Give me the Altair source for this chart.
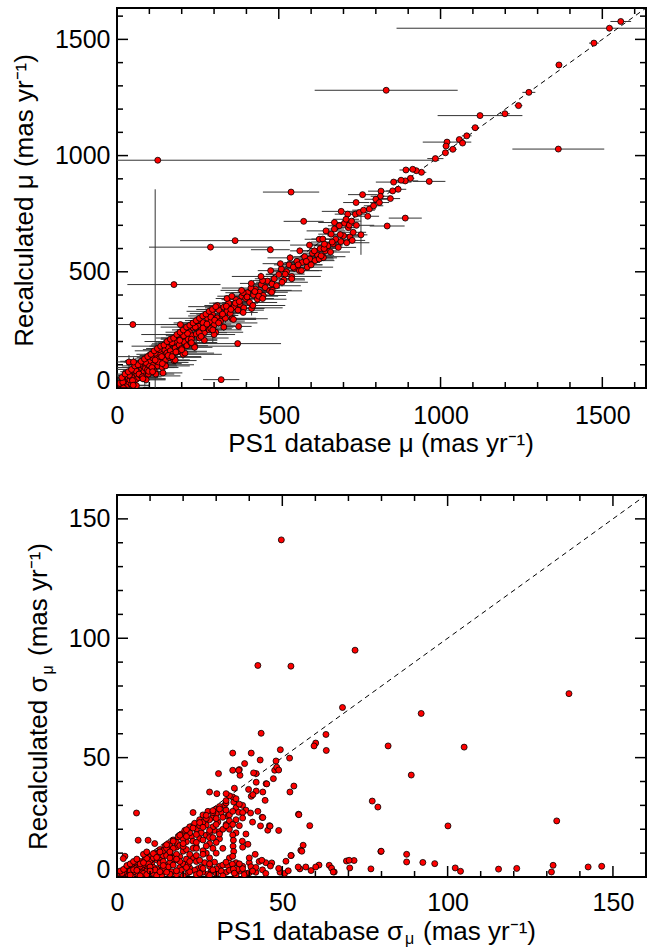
import altair as alt
import pandas as pd

FONT = "Liberation Sans"
RED = "#ff0000"

# ---------------- top panel: proper motion (dense band) ----------------
band_x = [
    3, 6, 9, 12, 14, 17, 20, 22, 25, 27,
    30, 32, 35, 37, 40, 42, 45, 47, 50, 52,
    55, 57, 60, 62, 65, 67, 70, 72, 75, 77,
    80, 83, 86, 88, 91, 94, 97, 100, 103, 106,
    110, 113, 116, 120, 123, 126, 130, 133, 136, 140,
    143, 147, 150, 154, 157, 161, 165, 168, 172, 176,
    180, 184, 188, 192, 196, 200, 204, 208, 212, 216,
    220, 224, 228, 232, 236, 240, 245, 250, 255, 260,
    265, 270, 275, 280, 285, 290, 295, 300, 305, 310,
    315, 320, 325, 330, 335, 340, 345, 350, 356, 362,
    368, 374, 380, 386, 392, 398, 404, 410, 416, 422,
    428, 434, 440, 446, 452, 458, 465, 472, 479, 486,
    493, 500, 508, 516, 524, 532, 540, 548, 556, 564,
    572, 580, 588, 596, 604, 612, 620, 628, 636, 644,
    652, 660, 668, 676, 684, 692, 700, 710, 720, 730,
    40, 70, 100, 130, 160, 190, 250, 280, 310, 340,
    8, 18, 28, 38, 48, 58, 68, 78, 88, 98,
    108, 118, 128, 138, 148, 158, 170, 182, 194, 206,
    218, 230, 242, 254, 266, 278, 290, 302, 314, 326,
    338, 352, 366, 378, 390, 402, 414, 426, 438, 450,
    15, 25, 35, 45, 55, 65, 75, 85, 95, 105,
    115, 125, 135, 145, 155, 165, 175, 185, 195, 205,
    215, 225, 235, 245, 255, 265, 275, 285, 295, 305,
    60, 90, 120, 150, 180, 210, 240, 270, 300, 330,
    360, 390, 420, 450, 480, 510, 540, 570, 600, 630,
    355, 385, 415, 445, 475, 505, 535, 565, 595, 625,
    520, 545, 560, 585, 610, 640, 665, 690, 715, 740,
    20, 50, 80, 110, 140, 170, 200, 230, 260, 290,
]
band_y = [
    8, 0, 15, 5, 22, 12, 2, 30, 18, 38,
    10, 26, 44, 20, 35, 52, 15, 40, 58, 28,
    48, 66, 38, 58, 80, 45, 72, 55, 88, 62,
    95, 70, 52, 85, 105, 78, 60, 98, 118, 82,
    130, 100, 70, 118, 142, 95, 125, 152, 110, 88,
    138, 165, 120, 150, 178, 132, 160, 190, 145, 118,
    172, 200, 158, 185, 215, 170, 145, 198, 228, 182,
    210, 240, 195, 225, 258, 180, 232, 268, 215, 248,
    282, 238, 262, 300, 250, 285, 318, 270, 240, 302,
    335, 288, 312, 348, 300, 330, 365, 320, 298, 350,
    380, 335, 360, 395, 345, 385, 410, 368, 342, 400,
    425, 382, 412, 445, 398, 432, 460, 418, 448, 470,
    440, 488, 512, 465, 500, 530, 480, 515, 545, 505,
    540, 565, 520, 555, 580, 548, 572, 600, 565, 590,
    612, 585, 620, 640, 605, 630, 655, 625, 650, 670,
    65, 100, 140, 165, 200, 230, 290, 320, 355, 385,
    20, 25, 5, 55, 32, 75, 60, 48, 110, 72,
    88, 150, 112, 135, 100, 140, 195, 155, 205, 225,
    235, 210, 262, 238, 258, 275, 305, 292, 280, 318,
    352, 338, 365, 372, 410, 392, 430, 415, 395, 462,
    45, 60, 70, 80, 95, 100, 115, 125, 135, 145,
    160, 170, 180, 185, 200, 210, 215, 230, 240, 250,
    262, 270, 280, 290, 300, 310, 318, 330, 338, 350,
    10, 35, 60, 95, 120, 150, 175, 205, 230, 262,
    295, 325, 355, 385, 420, 455, 470, 505, 530, 560,
    395, 420, 450, 480, 505, 535, 560, 590, 615, 640,
    490, 520, 530, 545, 590, 600, 628, 660, 690, 700,
    0, 12, 40, 70, 105, 135, 165, 195, 222, 255,
]
band_xerr = [
    15, 30, 10, 45, 20, 12, 60, 25, 18, 40,
    35, 20, 55, 15, 28, 70, 22, 45, 30, 12,
    50, 25, 90, 18, 35, 60, 20, 40, 75, 28,
    30, 65, 110, 22, 45, 35, 80, 25, 55, 40,
    38, 70, 25, 95, 30, 60, 45, 20, 85, 50,
    42, 28, 75, 55, 20, 100, 35, 60, 25, 70,
    30, 45, 90, 25, 60, 35, 120, 40, 22, 65,
    55, 30, 80, 45, 25, 140, 35, 60, 90, 28,
    40, 70, 30, 55, 100, 35, 20, 65, 85, 45,
    30, 75, 50, 25, 95, 40, 60, 35, 110, 30,
    45, 80, 35, 55, 120, 30, 50, 85, 40, 65,
    35, 90, 50, 30, 70, 45, 25, 100, 40, 60,
    75, 40, 30, 65, 50, 35, 90, 45, 30, 70,
    55, 35, 80, 45, 30, 60, 40, 25, 70, 35,
    45, 60, 30, 40, 55, 35, 50, 70, 30, 40,
    25, 40, 30, 50, 35, 45, 30, 55, 40, 35,
    20, 35, 15, 50, 25, 40, 30, 60, 20, 45,
    70, 25, 50, 35, 90, 30, 45, 65, 28, 55,
    35, 80, 40, 60, 30, 75, 45, 35, 120, 40,
    50, 30, 70, 40, 55, 35, 90, 45, 60, 30,
    30, 55, 25, 80, 40, 35, 65, 30, 100, 45,
    60, 35, 90, 40, 70, 30, 55, 110, 45, 35,
    80, 40, 60, 35, 95, 45, 30, 70, 50, 85,
    40, 60, 35, 75, 45, 90, 55, 40, 65, 30,
    70, 45, 100, 35, 60, 80, 40, 55, 35, 50,
    45, 65, 35, 90, 40, 55, 70, 30, 60, 45,
    60, 40, 75, 35, 50, 45, 65, 40, 30, 55,
    35, 50, 70, 40, 60, 90, 45, 80, 35, 65,
]
band_yerr = [
    8, 15, 5, 20, 10, 6, 25, 12, 9, 18,
    10, 30, 8, 14, 22, 6, 12, 40, 9, 16,
    12, 8, 20, 35, 10, 14, 7, 25, 11, 9,
    15, 10, 45, 8, 18, 12, 22, 9, 30, 14,
    10, 25, 12, 8, 60, 15, 10, 20, 9, 35,
    12, 9, 18, 14, 25, 10, 8, 30, 12, 16,
    9, 14, 10, 40, 12, 8, 20, 15, 10, 12,
    14, 10, 25, 12, 8, 18, 35, 10, 14, 9,
    12, 20, 10, 15, 9, 50, 12, 10, 18, 14,
    10, 15, 12, 9, 20, 14, 10, 25, 12, 18,
    15, 10, 14, 20, 9, 12, 16, 10, 30, 12,
    10, 14, 12, 18, 10, 15, 9, 12, 20, 14,
    12, 10, 15, 9, 14, 12, 10, 16, 12, 10,
    14, 12, 10, 15, 12, 9, 14, 10, 12, 15,
    12, 10, 14, 12, 9, 15, 10, 12, 14, 10,
    10, 12, 9, 14, 10, 12, 15, 10, 12, 9,
    10, 12, 8, 15, 10, 9, 14, 20, 10, 12,
    14, 10, 12, 9, 18, 10, 12, 15, 10, 14,
    12, 15, 10, 12, 14, 9, 10, 12, 16, 10,
    10, 12, 14, 10, 9, 12, 10, 15, 12, 10,
    12, 20, 10, 15, 30, 12, 10, 18, 12, 25,
    10, 14, 12, 22, 10, 15, 12, 10, 20, 12,
    15, 10, 12, 18, 10, 14, 12, 25, 10, 12,
    10, 15, 12, 10, 20, 12, 14, 10, 12, 16,
    12, 10, 15, 12, 10, 18, 12, 10, 14, 12,
    10, 14, 12, 16, 10, 12, 15, 10, 12, 14,
    12, 10, 14, 12, 15, 10, 12, 14, 10, 12,
    10, 12, 15, 10, 12, 14, 10, 12, 15, 10,
]

# ---------------- top panel: individual / outlying stars ----------------
out_x = [
    1557, 1522, 1474, 1366, 1273, 1241, 1199, 1122, 1107, 1081,
    1058, 1068, 1020, 1017, 1038, 1015, 984, 832, 1364, 126,
    941, 925, 914, 893, 965, 907, 891, 878, 855, 816,
    814, 845, 852, 869, 759, 739, 800, 811, 891, 835,
    754, 727, 693, 713, 737, 749, 762, 780, 793, 775,
    672, 703, 718, 725, 708, 687, 646, 672, 662, 636,
    641, 625, 638, 631, 538, 577, 289, 365, 176, 49,
    196, 142, 322, 373, 376, 478, 474, 118, 37, 51,
    296,
]
out_y = [
    1577, 1548, 1484, 1390, 1272, 1215, 1180, 1172, 1120, 1085,
    1069, 1054, 1058, 1041, 1027, 1012, 987, 1281, 1028, 980,
    928, 935, 941, 938, 889, 902, 891, 894, 886, 847,
    825, 815, 848, 855, 832, 798, 812, 798, 731, 697,
    659, 635, 760, 748, 748, 755, 765, 770, 784, 739,
    712, 709, 701, 718, 726, 698, 676, 684, 662, 641,
    619, 555, 561, 569, 843, 717, 606, 634, 445, 273,
    273, 65, 36, 191, 265, 412, 595, 120, 112, 112,
    250,
]
out_xerr = [
    32, 658, 15, 10, 20, 12, 15, 131, 12, 15,
    10, 10, 75, 10, 12, 10, 25, 221, 142, 870,
    15, 10, 12, 20, 50, 12, 40, 15, 55, 40,
    30, 30, 20, 25, 45, 40, 35, 30, 51, 54,
    20, 40, 60, 40, 30, 25, 35, 20, 30, 35,
    50, 30, 25, 30, 40, 35, 60, 30, 40, 35,
    50, 45, 30, 40, 87, 62, 190, 170, 144, 139,
    60, 60, 56, 134, 40, 50, 60, 20, 40, 30,
    30,
]
out_yerr = [
    8, 10, 8, 8, 10, 8, 8, 10, 8, 8,
    8, 8, 10, 8, 8, 8, 8, 10, 10, 10,
    8, 8, 8, 8, 10, 8, 8, 8, 8, 8,
    8, 8, 8, 8, 8, 8, 8, 8, 8, 8,
    86, 8, 10, 8, 8, 8, 8, 8, 8, 8,
    8, 8, 8, 8, 8, 8, 10, 8, 8, 8,
    10, 8, 8, 8, 10, 10, 10, 10, 10, 10,
    10, 10, 10, 10, 10, 10, 10, 735, 30, 20,
    55,
]

# ---------------- bottom panel: uncertainties ----------------
sig_x = [
    # dense cluster
    0.5, 1, 1.5, 2, 2.5, 3, 3.5, 4, 4.5, 5,
    5.5, 6, 6.5, 7, 7.5, 8, 8.5, 9, 9.5, 10,
    10.5, 11, 11.5, 12, 12.5, 13, 13.5, 14, 14.5, 15,
    15.5, 16, 16.5, 17, 17.5, 18, 18.5, 19, 19.5, 20,
    20.5, 21, 21.5, 22, 22.5, 23, 23.5, 24, 24.5, 25,
    25.5, 26, 26.5, 27, 27.5, 28, 28.5, 29, 29.5, 30,
    30.5, 31, 31.5, 32, 32.5, 33, 33.5, 34, 35, 36,
    37, 38, 39, 40, 41, 42, 3, 6, 9, 12,
    14, 16, 18, 20, 22, 24, 26, 28, 30, 32,
    2, 4, 6, 8, 10, 12, 14, 16, 18, 20,
    22, 24, 26, 28, 30, 13, 15, 17, 19, 21,
    23, 25, 27, 29, 31, 33, 11, 19, 21, 27,
    29, 31, 33, 24, 26, 28, 34, 36, 38, 23,
    1.5, 3.5, 5.5, 7.5, 9.5, 11.5, 13.5, 15.5, 17.5, 19.5,
    21.5, 23.5, 25.5, 27.5, 29.5, 31.5, 33.5, 36.5, 38.5, 40.5,
    7, 9, 11, 13, 15, 17, 19, 21, 23, 25,
    26, 28, 30, 32, 22, 24, 20, 18, 16, 14,
    27, 29, 31, 33, 34, 36, 37, 39, 30, 28,
    4, 8, 12, 16, 20, 24, 28, 32, 36, 40,
    5, 7, 9, 11, 13, 15, 17, 19, 21, 23,
    25, 27, 29, 31, 33, 35, 24, 26, 28, 30,
    6, 10, 14, 18, 22, 26, 30, 34, 38, 42,
    8, 12, 16, 20, 24, 28, 32, 36, 40, 44,
    9, 13, 17, 21, 25, 29, 33, 37, 41, 45,
    10, 14, 18, 22, 26, 30, 34, 38, 15, 25,
    27, 29, 31, 33, 35, 37, 39, 41, 43, 45,
    1, 2, 3, 4, 5, 6, 7, 8, 9, 10,
    # scattered stars
    72, 136.7, 68.2, 92, 63.2, 63.3, 82, 105, 89, 77.2,
    78.9, 100.1, 133, 79.8, 87.6, 87.6, 64.2, 64.9, 65.7, 69.4,
    70.4, 71.7, 76.8, 92.5, 96.1, 102.3, 103.9, 115.4, 120.9, 131.4,
    131.9, 142.5, 146.6, 49.7, 42.6, 52.6, 43.6, 35, 40.6, 49.4,
    30.7, 43.3, 52.2, 5.9, 60.1, 59.6, 53.5, 52.3, 54.9, 58.3,
    56.3, 55.6, 52.7, 51.1, 55.3, 58.7, 61.1, 49.3, 50.7, 45.6,
    46.1, 43.9, 45.1, 44.1, 44.8, 47.7, 48.3, 42.1, 35, 37,
    37.2, 38.6, 40.6, 48.1, 48.9, 47.3, 41.3, 42.1, 45.3, 35.5,
    34, 35.3, 39.8, 42.1, 41.1, 36.8, 38, 40.4, 42.6, 38,
    44.1, 35, 43.4, 46.3, 48.9, 55, 41.8, 43.8, 46.8, 46.4,
    48.9, 51.8, 52.6, 54.8, 57.1, 55.9, 60.1, 65.4, 70.2, 79.9,
    37.9, 39.6, 35, 35.2, 35.1, 35.3, 35, 34.9, 35.2, 35.5,
    30.2, 33, 36, 28, 36.8, 9.4, 2.4, 1.9, 6.4, 11.4,
]
sig_y = [
    0.3, 1.2, 0.5, 2, 0.8, 2.8, 1.5, 3.5, 0.6, 4.2,
    2.2, 5.5, 1, 6.5, 3.8, 0.5, 7.5, 4.8, 2, 8.5,
    5.5, 1.5, 10, 7.2, 3, 11.5, 0.8, 8.8, 12.8, 5,
    14, 10.2, 2.2, 15.5, 7, 12.5, 16.8, 4, 18, 10.8,
    19.5, 14.8, 1.8, 21, 17, 8, 22.5, 12.5, 3.5, 24,
    18.5, 26, 6, 21.8, 27.5, 14, 2.5, 25, 19.5, 28.5,
    23, 4.5, 27, 12, 30, 2, 25.5, 8, 3, 6,
    2.5, 4.5, 1.5, 6, 3, 2, 4.5, 3, 6.5, 3.5,
    2.5, 6, 1, 5.5, 3.8, 6.5, 2, 4.5, 1.5, 5,
    1.8, 2.5, 4, 5.2, 6.8, 9.5, 11, 13, 14.5, 16,
    18.5, 20, 23, 24, 26.5, 7, 9, 12, 8.5, 11.5,
    15, 16, 17.5, 21, 19, 22, 4, 6.5, 7.5, 10,
    12, 16, 28, 9, 11, 8, 26, 29, 30, 27,
    1.5, 0.5, 3.5, 1.8, 5.5, 3, 6, 4.2, 8.5, 2.8,
    5.2, 2.8, 4.2, 1.2, 6.2, 2.5, 4.8, 3.2, 1, 4.3,
    4.5, 2.5, 8, 5.8, 12, 7.8, 13.2, 17, 12, 21.5,
    15.5, 18.5, 22, 25, 9.5, 14.5, 12.8, 9.5, 8, 6.5,
    24.5, 27, 29.5, 31, 20, 24, 21.5, 18, 10, 5.5,
    0.8, 1.5, 0.6, 1.2, 0.5, 1, 0.7, 0.5, 0.8, 1.8,
    3, 5.5, 7.8, 9.8, 10.5, 13.5, 15, 17.5, 19.8, 20.5,
    22.8, 25.8, 27.8, 28.5, 32, 33.5, 17.8, 20.8, 19.5, 24.5,
    2.8, 3.2, 3.5, 2.6, 2.2, 3.6, 3.4, 2.8, 3.5, 4,
    6, 8.2, 10.5, 14, 12, 16.5, 20, 18.5, 8, 3,
    1, 2.2, 5, 4, 7, 3, 6.2, 5.5, 2.5, 1.5,
    4.2, 4.8, 7.5, 6.5, 9.5, 14.5, 23.5, 12.5, 2, 1.5,
    13, 16.5, 18, 21.5, 27.5, 30.5, 28, 23, 6.5, 6,
    2.5, 3.2, 4.8, 5.5, 6.5, 7.5, 0.5, 9.5, 10.5, 2.5,
    95, 76.8, 71, 68.5, 59.7, 53, 54.9, 54.4, 42.7, 31.8,
    29.3, 21.4, 23.5, 10.7, 9.5, 6.3, 4.9, 3.7, 2.1, 6.7,
    3.8, 6.9, 3.4, 6.1, 5.6, 3.8, 2.4, 3.3, 3.6, 2.1,
    4.9, 4.2, 4.5, 141.2, 88.6, 88.3, 60.2, 51.9, 51.9, 53.3,
    43.3, 49, 49.8, 26.8, 56.1, 54.9, 38.1, 35.6, 26.3, 21.5,
    13.3, 11.2, 9, 6.6, 3.4, 2.7, 5, 2, 1.5, 19.6,
    21.5, 25, 39.1, 35.6, 32.1, 44.7, 46, 43.3, 44.7, 45,
    42.6, 47.5, 33.8, 48.6, 44.8, 41.2, 43.6, 39.7, 39, 37.2,
    34, 31.4, 36.7, 36, 34.5, 27.1, 27, 26.8, 27.5, 24.7,
    24.9, 22, 21.4, 21.3, 19.5, 26.1, 9.5, 7, 5.9, 4.6,
    3.6, 2.6, 9, 4.2, 4.2, 10.8, 4.2, 2.1, 7, 10.8,
    15, 13.7, 17.6, 15.4, 12.9, 10.7, 8.7, 5.4, 3.3, 1.6,
    34.9, 34.9, 32.8, 35.6, 44.7, 15.4, 8.7, 7.7, 15.4, 14,
]

assert len(band_x) == len(band_y) == len(band_xerr) == len(band_yerr)
assert len(out_x) == len(out_y) == len(out_xerr) == len(out_yerr)
assert len(sig_x) == len(sig_y)

# axis ticks
mu_major = [0, 500, 1000, 1500]
mu_minor = [100, 200, 300, 400, 600, 700, 800, 900, 1100, 1200, 1300, 1400, 1600]
sig_major = [0, 50, 100, 150]
sig_minor = [10, 20, 30, 40, 60, 70, 80, 90, 110, 120, 130, 140, 160]
mu_domain = [0, 1635]
sig_domain = [0, 160]

W = 529
H_TOP = 380
H_BOT = 382
GAP = 107
MAJ = 11
MIN = 6


def axes(major, xpad):
    xax = alt.Axis(values=major, format="d", ticks=False, tickSize=0, domain=False, grid=False,
                   labelFont=FONT, labelFontSize=25, labelColor="black",
                   labelPadding=xpad, labelFlush=False, title=None)
    yax = alt.Axis(values=major, format="d", ticks=False, tickSize=0, domain=False, grid=False,
                   labelFont=FONT, labelFontSize=25, labelColor="black",
                   labelPadding=7, labelFlush=True, labelFlushOffset=5, title=None)
    return xax, yax


def text(t, x, y, angle=0, align="center", size=26):
    return alt.Chart(pd.DataFrame({"t": [t]})).mark_text(
        font=FONT, fontSize=size, color="black", align=align,
        baseline="alphabetic", angle=angle,
    ).encode(x=alt.value(x), y=alt.value(y), text="t:N")


def panel(pts, errs, domain, major, minor, H, titles, xpad):
    sc = alt.Scale(domain=domain, nice=False, zero=False)
    xax, yax = axes(major, xpad)

    def X(f):
        return alt.X(f, scale=sc, axis=xax, title=None)

    def Y(f):
        return alt.Y(f, scale=sc, axis=yax, title=None)

    layers = []
    if errs is not None:
        layers.append(alt.Chart(errs).mark_rule(clip=True, color="#333333", strokeWidth=1)
                      .encode(x=X("x1:Q"), x2="x2:Q", y=Y("y:Q")))
        layers.append(alt.Chart(errs).mark_rule(clip=True, color="#333333", strokeWidth=1)
                      .encode(x=X("x:Q"), y=Y("y1:Q"), y2="y2:Q"))
    layers.append(alt.Chart(pd.DataFrame({"v": domain})).mark_line(
        clip=True, color="black", strokeWidth=1, strokeDash=[5, 4])
        .encode(x=X("v:Q"), y=Y("v:Q")))
    layers.append(alt.Chart(pts).mark_circle(
        clip=True, size=36, fill=RED, fillOpacity=1, stroke="black", strokeWidth=0.8, opacity=1)
        .encode(x=X("x:Q"), y=Y("y:Q")))
    for vals, ln in ((major, MAJ), (minor, MIN)):
        tdf = pd.DataFrame({"t": vals})
        base = alt.Chart(tdf).mark_rule(clip=True, color="black", strokeWidth=1.5)
        layers.append(base.encode(x=X("t:Q"), y=alt.value(H), y2=alt.value(H - ln)))
        layers.append(base.encode(x=X("t:Q"), y=alt.value(0), y2=alt.value(ln)))
        layers.append(base.encode(y=Y("t:Q"), x=alt.value(0), x2=alt.value(ln)))
        layers.append(base.encode(y=Y("t:Q"), x=alt.value(W - ln), x2=alt.value(W)))
    layers.extend(titles)
    return alt.layer(*layers).properties(width=W, height=H)


top_df = pd.DataFrame({
    "x": band_x + out_x,
    "y": band_y + out_y,
    "xerr": band_xerr + out_xerr,
    "yerr": band_yerr + out_yerr,
})
top_df["x1"] = top_df.x - top_df.xerr
top_df["x2"] = top_df.x + top_df.xerr
top_df["y1"] = top_df.y - top_df.yerr
top_df["y2"] = top_df.y + top_df.yerr

bot_df = pd.DataFrame({"x": sig_x, "y": sig_y})

top_titles = [
    text("PS1 database \u03bc (mas yr\u207b\u00b9)", 264, 444),
    text("Recalculated \u03bc (mas yr\u207b\u00b9)", -84, 192.5, angle=270),
]
bot_titles = [
    text("PS1 database \u03c3", 286, 444.5, align="right"),
    text("\u03bc", 288, 448.5, align="left", size=16),
    text("(mas yr\u207b\u00b9)", 306, 444.5, align="left"),
    text("Recalculated \u03c3", -70, 181.5, angle=270, align="right"),
    text("\u03bc", -64.5, 179.5, angle=270, align="left", size=16),
    text("(mas yr\u207b\u00b9)", -70, 161, angle=270, align="left"),
]

top = panel(top_df, top_df, mu_domain, mu_major, mu_minor, H_TOP, top_titles, 15)
bot = panel(bot_df, None, sig_domain, sig_major, sig_minor, H_BOT, bot_titles, 13)

chart = alt.vconcat(top, bot, spacing=GAP, bounds="flush").properties(
    padding={"left": 117, "top": 8, "right": 1, "bottom": 940},
    autosize=alt.AutoSizeParams(type="none"),
).configure_view(stroke="black", strokeWidth=2)

chart.save("out.html", embed_options={"renderer": "svg", "actions": False})
